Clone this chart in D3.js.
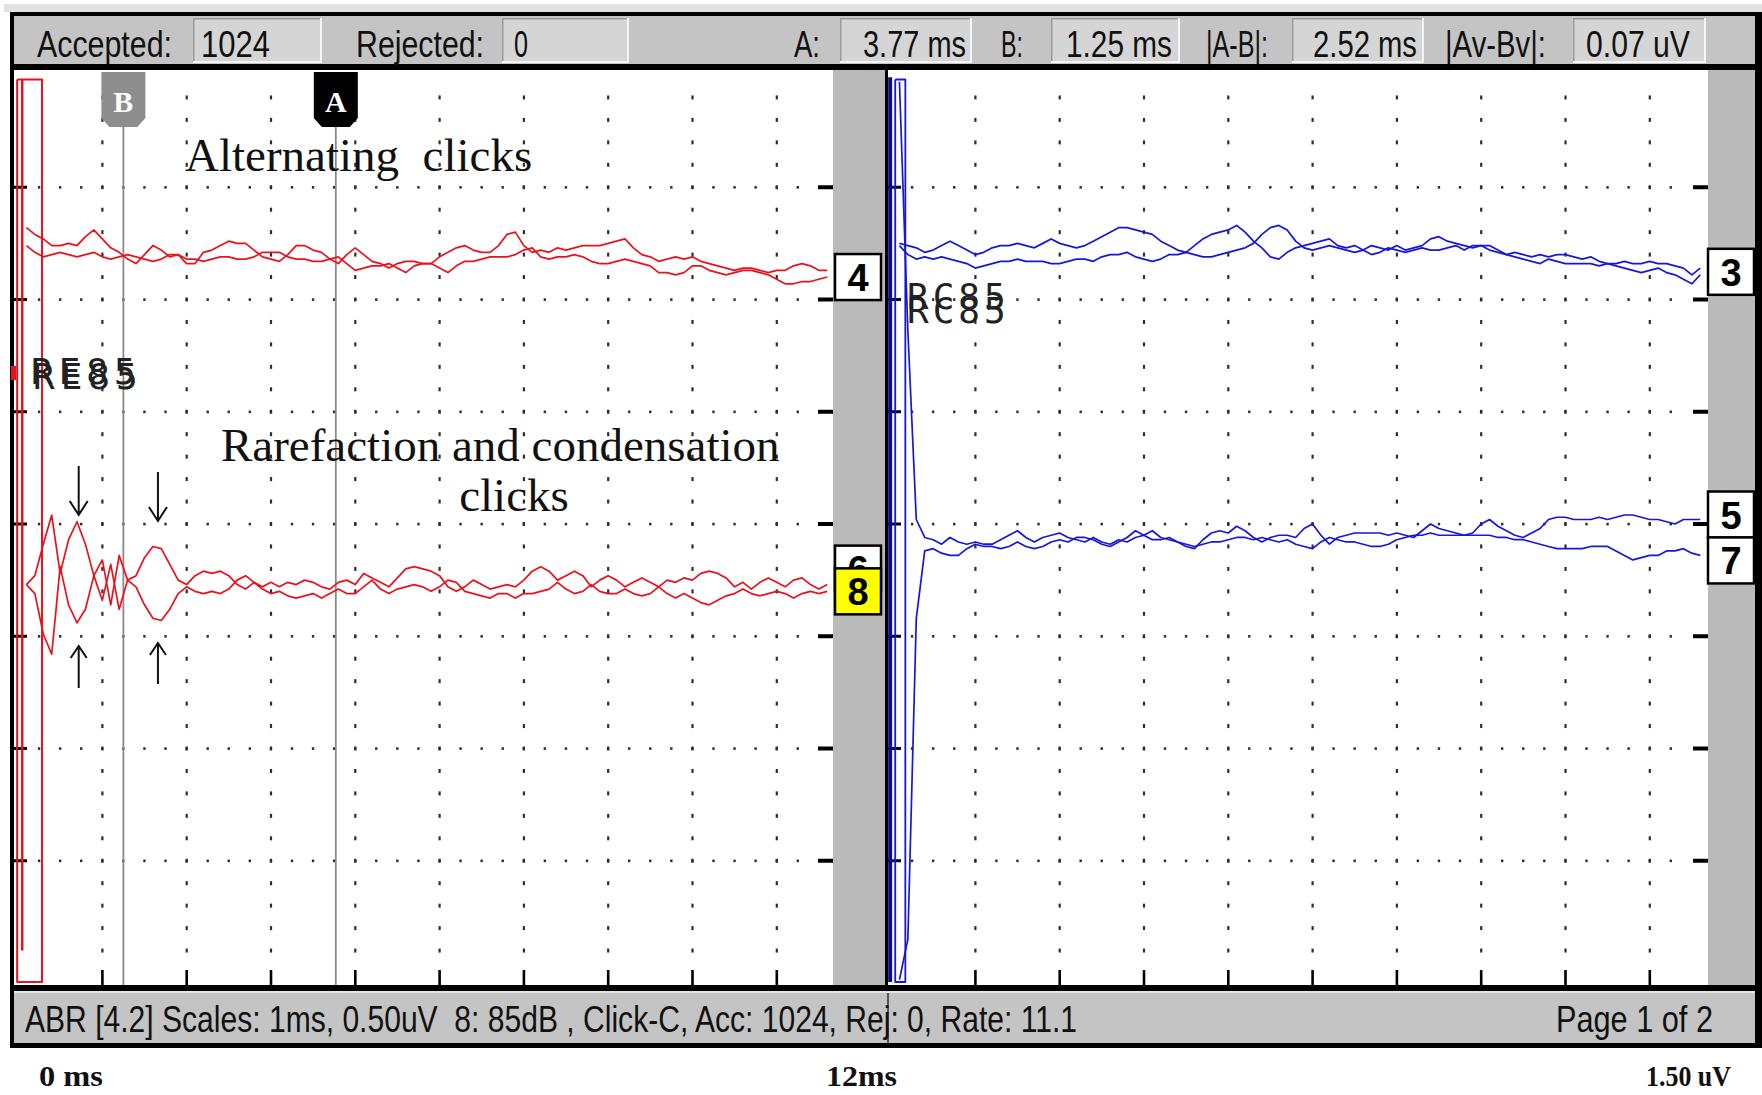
<!DOCTYPE html>
<html>
<head>
<meta charset="utf-8">
<script src="https://cdn.jsdelivr.net/npm/d3@7"></script>
<style>
  html, body { margin: 0; padding: 0; background: #ffffff; }
  svg { display: block; }
</style>
</head>
<body>
<svg id="chart" width="1762" height="1095"></svg>
<script>
// ---------------- recorded data ----------------
// every trace is sampled every 0.1 ms starting at 0.1 ms, amplitudes in µV
const sampleStart = 0.1;
const sampleStep = 0.1;

// alternating clicks, two replications (left page)
const trace4a = [0.12,0.09,0.07,0.04,0.04,0.05,0.04,0.08,0.11,0.07, 0.03,0.01,-0.02,-0.04,0,0.04,0.02,-0.01,0,-0.04,
  -0.04,0.01,0.02,0.04,0.06,0.05,0.05,0.02,-0.01,-0.02, -0.03,0,0.04,0.04,0.02,0.01,-0.02,-0.04,0,0.03,
  0,-0.03,-0.04,-0.06,-0.04,-0.03,-0.03,-0.04,-0.04,-0.01, 0.01,0.03,0.04,0.02,0.01,0.01,0.04,0.09,0.10,0.04,
  0.01,0.02,0.01,0.03,0.02,0.03,0.04,0.04,0.04,0.05, 0.06,0.07,0.03,0,-0.01,-0.03,-0.02,-0.01,-0.02,-0.01,
  -0.03,-0.04,-0.05,-0.06,-0.07,-0.06,-0.06,-0.07,-0.08,-0.07, -0.07,-0.05,-0.04,-0.05,-0.07,-0.07];
const trace4b = [0.04,0.01,-0.01,0,0.01,0,-0.01,0,0.01,-0.01, -0.02,-0.01,0,-0.01,-0.02,-0.03,-0.02,0,0,-0.02,
  -0.02,-0.03,-0.02,-0.01,-0.01,-0.02,-0.02,-0.01,0.01,0.01, 0.01,-0.01,-0.02,-0.02,-0.03,-0.03,-0.02,-0.01,-0.04,-0.07,
  -0.06,-0.05,-0.05,-0.04,-0.06,-0.08,-0.05,-0.04,-0.04,-0.06, -0.08,-0.05,-0.03,-0.03,-0.02,-0.01,-0.01,-0.01,0,0.02,
  0.03,-0.01,-0.02,-0.01,-0.01,0,-0.01,-0.03,-0.04,-0.04, -0.03,-0.02,-0.03,-0.04,-0.05,-0.08,-0.08,-0.09,-0.08,-0.05,
  -0.05,-0.07,-0.08,-0.09,-0.08,-0.07,-0.07,-0.08,-0.09,-0.11, -0.13,-0.13,-0.12,-0.12,-0.11,-0.10];

// rarefaction (6) and condensation (8) clicks (left page)
const trace6 = [0,0.04,0.18,0.31,0.05,0.20,0.28,0.18,0.04,-0.07, 0.09,-0.11,0.02,0.04,0.12,0.17,0.16,0.09,0.02,0,
  0.04,0.06,0.05,0.06,0.04,0,-0.02,0.01,-0.01,0.01, -0.01,0.01,0,0.02,0.01,-0.01,-0.02,0.01,0.02,0,
  0.05,0.03,0.01,-0.01,0.03,0.07,0.08,0.07,0.06,0.04, -0.01,-0.03,-0.01,0.02,0,-0.02,-0.01,0,-0.01,0.02,
  0.06,0.08,0.06,0.02,0.04,0.06,0.04,-0.01,0.02,0.04, 0.02,-0.01,0.01,0.03,0.01,-0.01,0.02,0.01,0.03,0.02,
  0.05,0.06,0.05,0.03,-0.01,0.01,-0.02,0.01,0.03,0.01, -0.01,0.02,0.03,0,-0.02,0];
const trace8 = [0,-0.04,-0.22,-0.31,0.08,-0.09,-0.17,-0.11,0.04,0.11, -0.09,0.13,0.02,-0.01,-0.09,-0.15,-0.16,-0.11,-0.04,-0.01,
  -0.03,-0.04,-0.03,-0.04,-0.02,0.02,0.04,0.01,-0.02,-0.04, -0.03,-0.05,-0.06,-0.05,-0.04,-0.06,-0.04,-0.02,-0.04,-0.04,
  -0.01,0.02,-0.02,-0.04,-0.02,-0.01,0,-0.01,-0.03,-0.01, 0.02,0.01,-0.03,-0.04,-0.05,-0.06,-0.04,-0.04,-0.06,-0.04,
  -0.04,-0.03,-0.02,0.01,-0.02,-0.04,-0.03,0,-0.03,-0.04, -0.04,-0.02,-0.04,-0.05,-0.04,-0.01,-0.04,-0.06,-0.04,-0.06,
  -0.08,-0.09,-0.07,-0.05,-0.04,-0.02,-0.04,-0.05,-0.04,-0.03, -0.04,-0.06,-0.04,-0.03,-0.04,-0.03];

// right page, channel 3 pair
const trace3a = [0.05,0.04,0.03,0.01,0.02,0.04,0.06,0.04,0.02,0, 0.01,0.03,0.04,0.04,0.05,0.04,0.03,0.05,0.07,0.05,
  0.04,0.03,0.04,0.06,0.08,0.10,0.12,0.12,0.11,0.10, 0.09,0.06,0.04,0.02,0.01,0.04,0.07,0.09,0.10,0.11,
  0.13,0.10,0.06,0.03,-0.01,-0.02,0.01,0.03,0.04,0.05, 0.06,0.07,0.04,0.03,0.04,0.02,0.04,0.03,0.02,0.04,
  0.02,0.03,0.04,0.07,0.08,0.06,0.05,0.04,0.03,0.04, 0.02,0.01,0,0.01,0,-0.01,0,-0.01,0,0,
  -0.01,-0.02,-0.01,-0.03,-0.04,-0.04,-0.03,-0.04,-0.04,-0.03, -0.04,-0.04,-0.05,-0.06,-0.09,-0.06];
const trace3b = [0.04,0,-0.02,-0.01,-0.02,-0.01,-0.02,-0.03,-0.04,-0.06, -0.05,-0.04,-0.03,-0.03,-0.02,-0.03,-0.03,-0.03,-0.04,-0.04,
  -0.03,-0.02,-0.02,-0.03,-0.01,0,0,0.01,-0.01,-0.02, -0.03,-0.02,0,0,0.01,0,-0.01,-0.01,0,0.01,
  0.02,0.03,0.05,0.09,0.12,0.13,0.11,0.06,0.03,0.02, 0.03,0.04,0.03,0.02,0.01,0.02,0,0.01,0.03,0.02,
  0.01,0.02,0.03,0.02,0.02,0.03,0.04,0.02,0.04,0.04, 0.04,0.02,0,-0.01,-0.02,-0.03,-0.04,-0.02,-0.03,-0.04,
  -0.04,-0.04,-0.04,-0.05,-0.04,-0.05,-0.06,-0.07,-0.08,-0.07, -0.06,-0.08,-0.09,-0.11,-0.13,-0.09];

// right page, channels 5 and 7 (start clipped by the stimulus artifact)
const trace5 = [2.07,0.96,0.12,0.04,0.03,0.01,0.04,0.02,0.01,0.02, 0.01,0.01,0.03,0.05,0.07,0.04,0.02,0.04,0.05,0.06,
  0.04,0.03,0.02,0.04,0.02,0.01,0.03,0.02,0.04,0.05, 0.07,0.04,0.03,0.02,0,-0.01,0.03,0.06,0.07,0.06,
  0.09,0.07,0.04,0.02,0.04,0.05,0.05,0.04,0.08,0.10, 0.05,0.01,0.04,0.05,0.06,0.06,0.06,0.06,0.05,0.06,
  0.05,0.04,0.07,0.10,0.08,0.07,0.06,0.05,0.06,0.10, 0.12,0.09,0.07,0.05,0.04,0.06,0.08,0.12,0.13,0.13,
  0.12,0.12,0.12,0.13,0.12,0.13,0.14,0.14,0.13,0.12, 0.12,0.11,0.10,0.12,0.12,0.12];
const trace7 = [-1.93,-1.75,-0.32,-0.02,-0.01,-0.03,-0.04,-0.04,-0.01,0.01, 0,0,-0.01,0,0.02,0,-0.01,0,0.02,0.03,
  0.02,0.04,0.04,0.03,0.01,0,0.02,0.04,0.07,0.05, 0.03,0.03,0.04,0.02,0.01,0,0.01,0.02,0.02,0.03,
  0.04,0.04,0.03,0.04,0.03,0.02,0.03,0.01,0,-0.01, 0.02,0.04,0.03,0.02,0.02,0.01,0,0,0.01,0.03,
  0.04,0.05,0.05,0.06,0.05,0.05,0.05,0.05,0.05,0.05, 0.05,0.04,0.04,0.03,0.03,0.02,0.01,0,-0.01,-0.01,
  -0.01,-0.01,0,0,0,-0.02,-0.04,-0.06,-0.05,-0.04, -0.04,-0.02,-0.02,-0.01,-0.03,-0.04];

// clipped stimulus artifacts, [ms, µV]
const artifactLeft = [[-0.01,1.98],[0.285,1.98],[0.285,-2.04],[-0.01,-2.04],[-0.01,1.98]];
const artifactLeftInner = [[0.05,1.98],[0.05,-1.9]];
const artifactRight = [[0.05,1.98],[0.17,1.98],[0.17,-2.04],[0.05,-2.04],[0.05,1.98]];
const artifactRightEdge = [[-0.01,1.99],[-0.01,-2.04]];

// cursors (ms)
const cursorNames = ["B", "A"];
const cursorMs = [1.25, 3.77];

// header / status texts
const acceptedCount = 1024;
const rejectedCount = 0;
const ampDiff = 0.07;
const headerLabels = ["Accepted:", "Rejected:", "A:", "B:", "|A-B|:", "|Av-Bv|:"];
const headerValues = [
  String(acceptedCount), String(rejectedCount),
  cursorMs[1].toFixed(2) + " ms", cursorMs[0].toFixed(2) + " ms",
  Math.abs(cursorMs[1] - cursorMs[0]).toFixed(2) + " ms", ampDiff.toFixed(2) + " uV"
];
const statusText = "ABR [4.2] Scales: 1ms, 0.50uV  8: 85dB , Click-C, Acc: 1024, Rej: 0, Rate: 11.1";
const pageText = "Page 1 of 2";
const footerLabels = ["0 ms", "12ms", "1.50 uV"];

// grid definition: 1 ms and 0.5 µV per division
const majorMs = d3.range(1, 10);
const rowUv = d3.range(1, 8).map(k => 2 - 0.5 * k);
const minorMs = d3.range(1, 39).map(k => k * 0.25);
const minorUv = d3.range(1, 40).map(k => 2 - 0.1 * k);

// ---------------- layout ----------------
const svg = d3.select("#chart");
const y = d3.scaleLinear().domain([2, -2]).range([75, 973]);
const xLeft = d3.scaleLinear().domain([0, 10]).range([18, 861]);
const xRight = d3.scaleLinear().domain([0, 10]).range([891, 1734]);

const panels = [
  { x: xLeft, left: 14, right: 833 },
  { x: xRight, left: 888, right: 1708 }
];

const RED = "#e8121c", BLUE = "#1717d9";
const BAR = "#c4c4c4", FIELD = "#d5d5d5", STRIP = "#bababa";
const sans = "'Liberation Sans', Arial, sans-serif";
const serif = "'Liberation Serif', 'Times New Roman', serif";
const mono = "'DejaVu Sans Mono', monospace";

// ---------------- frame ----------------
svg.append("rect").attr("x", 0).attr("y", 0).attr("width", 1762).attr("height", 1095).attr("fill", "#fff");
svg.append("rect").attr("x", 4).attr("y", 4).attr("width", 1758).attr("height", 8).attr("fill", "#e2e2e2");
svg.append("rect").attr("x", 10).attr("y", 12).attr("width", 1752).attr("height", 1036).attr("fill", "#000");
// header bar
svg.append("rect").attr("x", 14).attr("y", 16).attr("width", 1741).attr("height", 48).attr("fill", BAR);
// pages
panels.forEach(p => {
  svg.append("rect").attr("x", p.left).attr("y", 70).attr("width", p.right - p.left).attr("height", 915).attr("fill", "#fff");
  svg.append("rect").attr("x", p.right).attr("y", 70).attr("width", 47).attr("height", 915).attr("fill", STRIP);
});
svg.append("rect").attr("x", 880).attr("y", 70).attr("width", 5).attr("height", 915).attr("fill", STRIP);
// status bar
svg.append("rect").attr("x", 14).attr("y", 991).attr("width", 1741).attr("height", 52).attr("fill", BAR);
svg.append("rect").attr("x", 14).attr("y", 991).attr("width", 1741).attr("height", 2).attr("fill", "#e6e6e6");
svg.append("rect").attr("x", 887).attr("y", 993).attr("width", 2).attr("height", 50).attr("fill", "#555");

// ---------------- header ----------------
const headerLayout = [
  { lx: 37, lw: 135, f0: 193, f1: 322, vx: 201, vw: 69 },
  { lx: 356, lw: 128, f0: 502, f1: 629, vx: 514, vw: 14 },
  { lx: 794, lw: 26, f0: 840, f1: 972, vx: 863, vw: 103 },
  { lx: 1001, lw: 22, f0: 1051, f1: 1180, vx: 1066, vw: 106 },
  { lx: 1206, lw: 62, f0: 1292, f1: 1424, vx: 1313, vw: 104 },
  { lx: 1445, lw: 101, f0: 1573, f1: 1706, vx: 1586, vw: 104 }
];
const header = svg.append("g");
headerLayout.forEach((h, i) => {
  header.append("rect").attr("x", h.f0).attr("y", 18).attr("width", h.f1 - h.f0).attr("height", 45).attr("fill", FIELD);
  header.append("rect").attr("x", h.f0).attr("y", 18).attr("width", h.f1 - h.f0).attr("height", 1.5).attr("fill", "#9c9c9c");
  header.append("rect").attr("x", h.f0).attr("y", 18).attr("width", 1.5).attr("height", 45).attr("fill", "#9c9c9c");
  header.append("rect").attr("x", h.f1 - 2).attr("y", 18).attr("width", 2).attr("height", 45).attr("fill", "#f4f4f4");
  header.append("rect").attr("x", h.f0).attr("y", 61).attr("width", h.f1 - h.f0).attr("height", 2).attr("fill", "#f4f4f4");
  header.append("text").attr("x", h.lx).attr("y", 57).text(headerLabels[i])
    .attr("font-family", sans).attr("font-size", 37).attr("fill", "#111")
    .attr("textLength", h.lw).attr("lengthAdjust", "spacingAndGlyphs");
  header.append("text").attr("x", h.vx).attr("y", 57).text(headerValues[i])
    .attr("font-family", sans).attr("font-size", 37).attr("fill", "#111")
    .attr("textLength", h.vw).attr("lengthAdjust", "spacingAndGlyphs");
});

// ---------------- grid ----------------
const grid = svg.append("g").attr("fill", "#2e2e2e");
panels.forEach(p => {
  rowUv.forEach(v => {
    const yy = y(v);
    minorMs.forEach(t => {
      const xx = p.x(t);
      if (xx > p.left + 22 && xx < p.right - 18)
        grid.append("rect").attr("x", xx - 1.2).attr("y", yy - 1.2).attr("width", 2.4).attr("height", 2.6);
    });
    grid.append("rect").attr("x", p.left).attr("y", yy - 1.5).attr("width", 13).attr("height", 3).attr("fill", "#000");
    grid.append("rect").attr("x", p.right - 15).attr("y", yy - 2).attr("width", 15).attr("height", 4).attr("fill", "#000");
  });
  majorMs.forEach(t => {
    const xx = p.x(t);
    minorUv.forEach(v => {
      const yy = y(v);
      if (yy < 965) grid.append("rect").attr("x", xx - 1).attr("y", yy - 2).attr("width", 2.2).attr("height", 4);
    });
    grid.append("rect").attr("x", xx - 1.2).attr("y", 970).attr("width", 2.6).attr("height", 15).attr("fill", "#000");
  });
});

// ---------------- cursors ----------------
const cursorColors = ["#8e8e8e", "#000000"];
const cursors = svg.append("g");
cursorMs.forEach((t, i) => {
  const cx = xLeft(t);
  cursors.append("line").attr("x1", cx).attr("x2", cx).attr("y1", 126).attr("y2", 985)
    .attr("stroke", "#8a8a8a").attr("stroke-width", 1.8);
  cursors.append("path")
    .attr("d", `M${cx - 22},72 H${cx + 22} V118 L${cx + 14},127 H${cx - 14} L${cx - 22},118 Z`)
    .attr("fill", cursorColors[i]);
  cursors.append("text").attr("x", cx).attr("y", 112).attr("text-anchor", "middle").text(cursorNames[i])
    .attr("font-family", serif).attr("font-weight", "bold").attr("font-size", 30).attr("fill", "#fff");
});

// ---------------- traces ----------------
const traceLine = (xs, base) => d3.line()
  .x((d, i) => xs(sampleStart + i * sampleStep))
  .y(d => y(base + d));
const ptLine = xs => d3.line().x(d => xs(d[0])).y(d => y(d[1]));

const base4 = 1.2, base8 = -0.27, base3 = 1.2, base5 = -0.1;
const traces = svg.append("g").attr("fill", "none").attr("stroke-width", 1.7).attr("stroke-linejoin", "round");

traces.append("path").attr("d", ptLine(xLeft)(artifactLeft)).attr("stroke", RED).attr("stroke-width", 2);
traces.append("path").attr("d", ptLine(xLeft)(artifactLeftInner)).attr("stroke", RED).attr("stroke-width", 2.5);
[[trace4a, base4], [trace4b, base4], [trace6, base8], [trace8, base8]].forEach(([d, b]) => {
  traces.append("path").attr("d", traceLine(xLeft, b)(d)).attr("stroke", RED);
});

traces.append("path").attr("d", ptLine(xRight)(artifactRightEdge)).attr("stroke", "#0a0a9a").attr("stroke-width", 4);
traces.append("path").attr("d", ptLine(xRight)(artifactRight)).attr("stroke", BLUE).attr("stroke-width", 1.8);
[[trace3a, base3], [trace3b, base3], [trace5, base5], [trace7, base5]].forEach(([d, b]) => {
  traces.append("path").attr("d", traceLine(xRight, b)(d)).attr("stroke", BLUE);
});

// channel name tags
svg.append("rect").attr("x", 11).attr("y", 366).attr("width", 5).attr("height", 14).attr("fill", RED);
[[31, 384], [33, 389]].forEach(([tx, ty]) => {
  svg.append("text").attr("x", tx).attr("y", ty).text("RE85")
    .attr("font-family", mono).attr("font-size", 36).attr("letter-spacing", 6).attr("fill", "#222");
});
[[907, 309], [907, 323]].forEach(([tx, ty]) => {
  svg.append("text").attr("x", tx).attr("y", ty).text("RC85")
    .attr("font-family", mono).attr("font-size", 36).attr("letter-spacing", 4).attr("fill", "#222");
});

// ---------------- annotations ----------------
const notes = svg.append("g").attr("font-family", serif).attr("font-size", 47).attr("fill", "#111");
notes.append("text").attr("x", 185).attr("y", 171).text("Alternating  clicks").attr("xml:space", "preserve");
notes.append("text").attr("x", 221).attr("y", 461).text("Rarefaction and condensation");
notes.append("text").attr("x", 514).attr("y", 511).attr("text-anchor", "middle").text("clicks");

const arrowMs = [0.72, 1.66];
const arrows = svg.append("g").attr("stroke", "#111").attr("stroke-width", 2).attr("fill", "none");
arrowMs.forEach((t, i) => {
  const ax = xLeft(t);
  const top = i === 0 ? 466 : 472, tip = i === 0 ? 515 : 521;
  arrows.append("path").attr("d", `M${ax},${top} V${tip} M${ax - 9},${tip - 14} L${ax},${tip} L${ax + 9},${tip - 14}`);
  const utip = i === 0 ? 646 : 643, ubot = i === 0 ? 688 : 684;
  arrows.append("path").attr("d", `M${ax},${ubot} V${utip} M${ax - 8},${utip + 12} L${ax},${utip} L${ax + 8},${utip + 12}`);
});

// ---------------- channel labels ----------------
const last = a => a[a.length - 1];
const labelSpecs = [
  { text: "4", x: 835, cy: y(base4 + last(trace4b)), fill: "#fff" },
  { text: "6", x: 835, cy: y(base8 + last(trace6)) - 16, fill: "#fff" },
  { text: "8", x: 835, cy: y(base8 + last(trace8)), fill: "#ffff00" },
  { text: "3", x: 1708, cy: y(base3 + last(trace3b)) - 3, fill: "#fff" },
  { text: "5", x: 1708, cy: y(base5 + last(trace5)) - 5, fill: "#fff" },
  { text: "7", x: 1708, cy: y(base5 + last(trace7)) + 5, fill: "#fff" }
];
const labels = svg.append("g");
labelSpecs.forEach(s => {
  labels.append("rect").attr("x", s.x).attr("y", s.cy - 23).attr("width", 46).attr("height", 46)
    .attr("fill", s.fill).attr("stroke", "#000").attr("stroke-width", 2.5);
  labels.append("text").attr("x", s.x + 23).attr("y", s.cy + 14).attr("text-anchor", "middle").text(s.text)
    .attr("font-family", sans).attr("font-weight", "bold").attr("font-size", 38).attr("fill", "#000");
});

// ---------------- status bar & footer ----------------
svg.append("text").attr("x", 25).attr("y", 1032).text(statusText).attr("xml:space", "preserve")
  .attr("font-family", sans).attr("font-size", 36).attr("fill", "#111")
  .attr("textLength", 1052).attr("lengthAdjust", "spacingAndGlyphs");
svg.append("text").attr("x", 1556).attr("y", 1032).text(pageText)
  .attr("font-family", sans).attr("font-size", 36).attr("fill", "#111")
  .attr("textLength", 157).attr("lengthAdjust", "spacingAndGlyphs");

const footerX = [39, 826, 1646], footerW = [64, 71, 85];
footerLabels.forEach((t, i) => {
  svg.append("text").attr("x", footerX[i]).attr("y", 1086).text(t)
    .attr("font-family", serif).attr("font-weight", "bold").attr("font-size", 29).attr("fill", "#111")
    .attr("textLength", footerW[i]).attr("lengthAdjust", "spacingAndGlyphs");
});
</script>
</body>
</html>
